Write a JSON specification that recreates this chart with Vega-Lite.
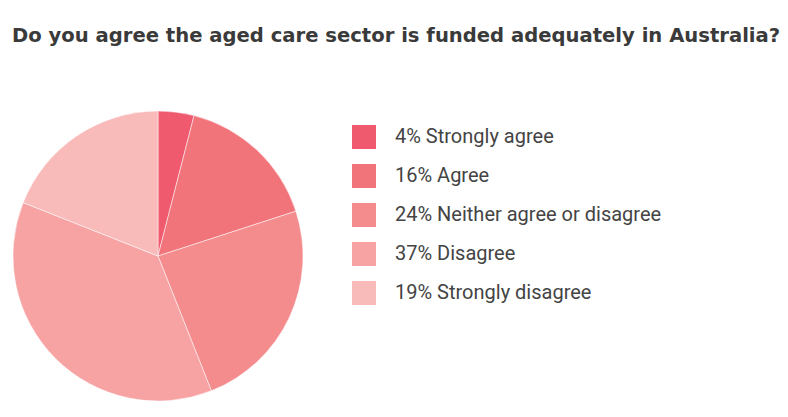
{
  "$schema": "https://vega.github.io/schema/vega-lite/v6.json",
  "autosize": {"type": "none"},
  "padding": {"top": 111, "left": 13, "right": 485, "bottom": 16},
  "width": 290,
  "height": 290,
  "background": "white",
  "title": {
    "text": "Do you agree the aged care sector is funded adequately in Australia?",
    "anchor": "start",
    "frame": "group",
    "font": "DejaVu Sans",
    "fontSize": 19.6,
    "fontWeight": "bold",
    "color": "#3a3a3a",
    "offset": 63,
    "dx": -1,
    "limit": 800
  },
  "data": {
    "values": [
      {"label": "4% Strongly agree", "value": 4, "order": 1},
      {"label": "16% Agree", "value": 16, "order": 2},
      {"label": "24% Neither agree or disagree", "value": 24, "order": 3},
      {"label": "37% Disagree", "value": 37, "order": 4},
      {"label": "19% Strongly disagree", "value": 19, "order": 5}
    ]
  },
  "mark": {"type": "arc", "stroke": "white", "strokeWidth": 0.5},
  "encoding": {
    "theta": {"field": "value", "type": "quantitative", "stack": true},
    "order": {"field": "order", "type": "quantitative"},
    "color": {
      "field": "label",
      "type": "nominal",
      "sort": null,
      "scale": {
        "domain": ["4% Strongly agree", "16% Agree", "24% Neither agree or disagree", "37% Disagree", "19% Strongly disagree"],
        "range": ["#ef5a6e", "#f2747b", "#f48c8e", "#f7a3a4", "#f9bbba"]
      },
      "legend": {
        "title": null,
        "orient": "none",
        "legendX": 339,
        "legendY": 14,
        "padding": 0,
        "symbolType": "square",
        "symbolSize": 576,
        "symbolStrokeWidth": 0,
        "symbolOpacity": 1,
        "labelFont": "Roboto",
        "labelFontSize": 20,
        "labelColor": "#444444",
        "labelOffset": 19,
        "rowPadding": 15,
        "labelLimit": 400
      }
    }
  }
}
